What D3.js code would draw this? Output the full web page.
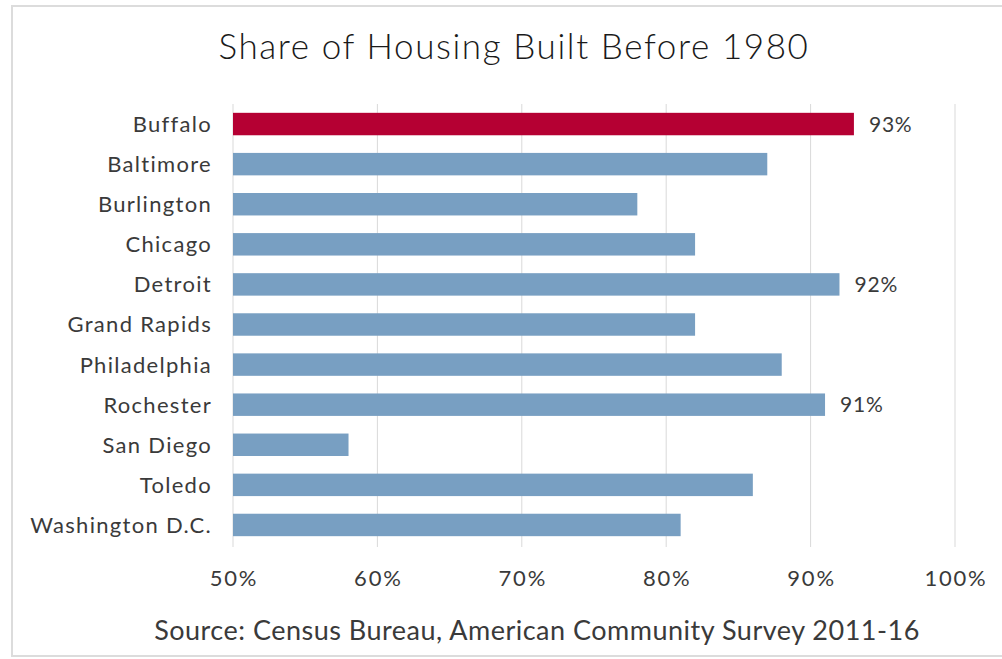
<!DOCTYPE html>
<html><head><meta charset="utf-8">
<script src="https://cdn.jsdelivr.net/npm/d3@7"></script>
<style>body{margin:0;background:#fff;} text{font-family:Lato,"Open Sans",sans-serif;}</style>
</head><body><svg id="c" width="1002" height="659"></svg>
<script>
const categories = ["Buffalo","Baltimore","Burlington","Chicago","Detroit","Grand Rapids","Philadelphia","Rochester","San Diego","Toledo","Washington D.C."];
const values = [93,87,78,82,92,82,88,91,58,86,81];
const labelled = ["Buffalo","Detroit","Rochester"];
const ticks = [50,60,70,80,90,100];
const title = "Share of Housing Built Before 1980";
const source = "Source: Census Bureau, American Community Survey 2011-16";

const svg = d3.select("#c");
svg.append("rect").attr("x",12).attr("y",6).attr("width",1100).attr("height",650)
  .attr("fill","#fff").attr("stroke","#dcdcdc").attr("stroke-width",2);

const x = d3.scaleLinear().domain([50,100]).range([233,955]);
const y = d3.scaleBand().domain(categories).range([104,545]).paddingInner(0.44).paddingOuter(0.22);

svg.append("g").selectAll("line").data(ticks).join("line")
  .attr("x1",d=>x(d)).attr("x2",d=>x(d)).attr("y1",104).attr("y2",547)
  .attr("stroke","#d9d9d9").attr("stroke-width",1);

svg.append("g").selectAll("rect").data(categories).join("rect")
  .attr("x",x(50)).attr("y",d=>y(d)).attr("height",y.bandwidth())
  .attr("width",(d,i)=>x(values[i])-x(50))
  .attr("fill",(d,i)=>i===0?"#b50033":"#789fc2");

svg.append("g").selectAll("text").data(categories.filter(c=>labelled.includes(c))).join("text")
  .attr("x",d=>x(values[categories.indexOf(d)])+15).attr("y",d=>y(d)+y.bandwidth()/2)
  .attr("dy","0.36em").attr("font-size",21).attr("letter-spacing",0.8).attr("fill","#3a3a3a")
  .text(d=>values[categories.indexOf(d)]+"%");

svg.append("g").selectAll("text").data(categories).join("text")
  .attr("x",212).attr("y",d=>y(d)+y.bandwidth()/2).attr("dy","0.36em")
  .attr("text-anchor","end").attr("font-size",22).attr("letter-spacing",1.3)
  .attr("fill","#3a3a3a").text(d=>d);

svg.append("g").selectAll("text").data(ticks).join("text")
  .attr("x",d=>x(d)+1).attr("y",578).attr("dy","0.36em").attr("text-anchor","middle")
  .attr("font-size",22).attr("letter-spacing",1.8).attr("fill","#3a3a3a").text(d=>d+"%");

svg.append("text").attr("x",514).attr("y",59).attr("text-anchor","middle")
  .attr("font-size",35).attr("font-weight",300).attr("letter-spacing",1.6).attr("fill","#1a1a1a").text(title);
svg.append("text").attr("x",537).attr("y",640).attr("text-anchor","middle")
  .attr("font-size",27).attr("letter-spacing",0.5).attr("fill","#3a3a3a").text(source);
</script></body></html>
